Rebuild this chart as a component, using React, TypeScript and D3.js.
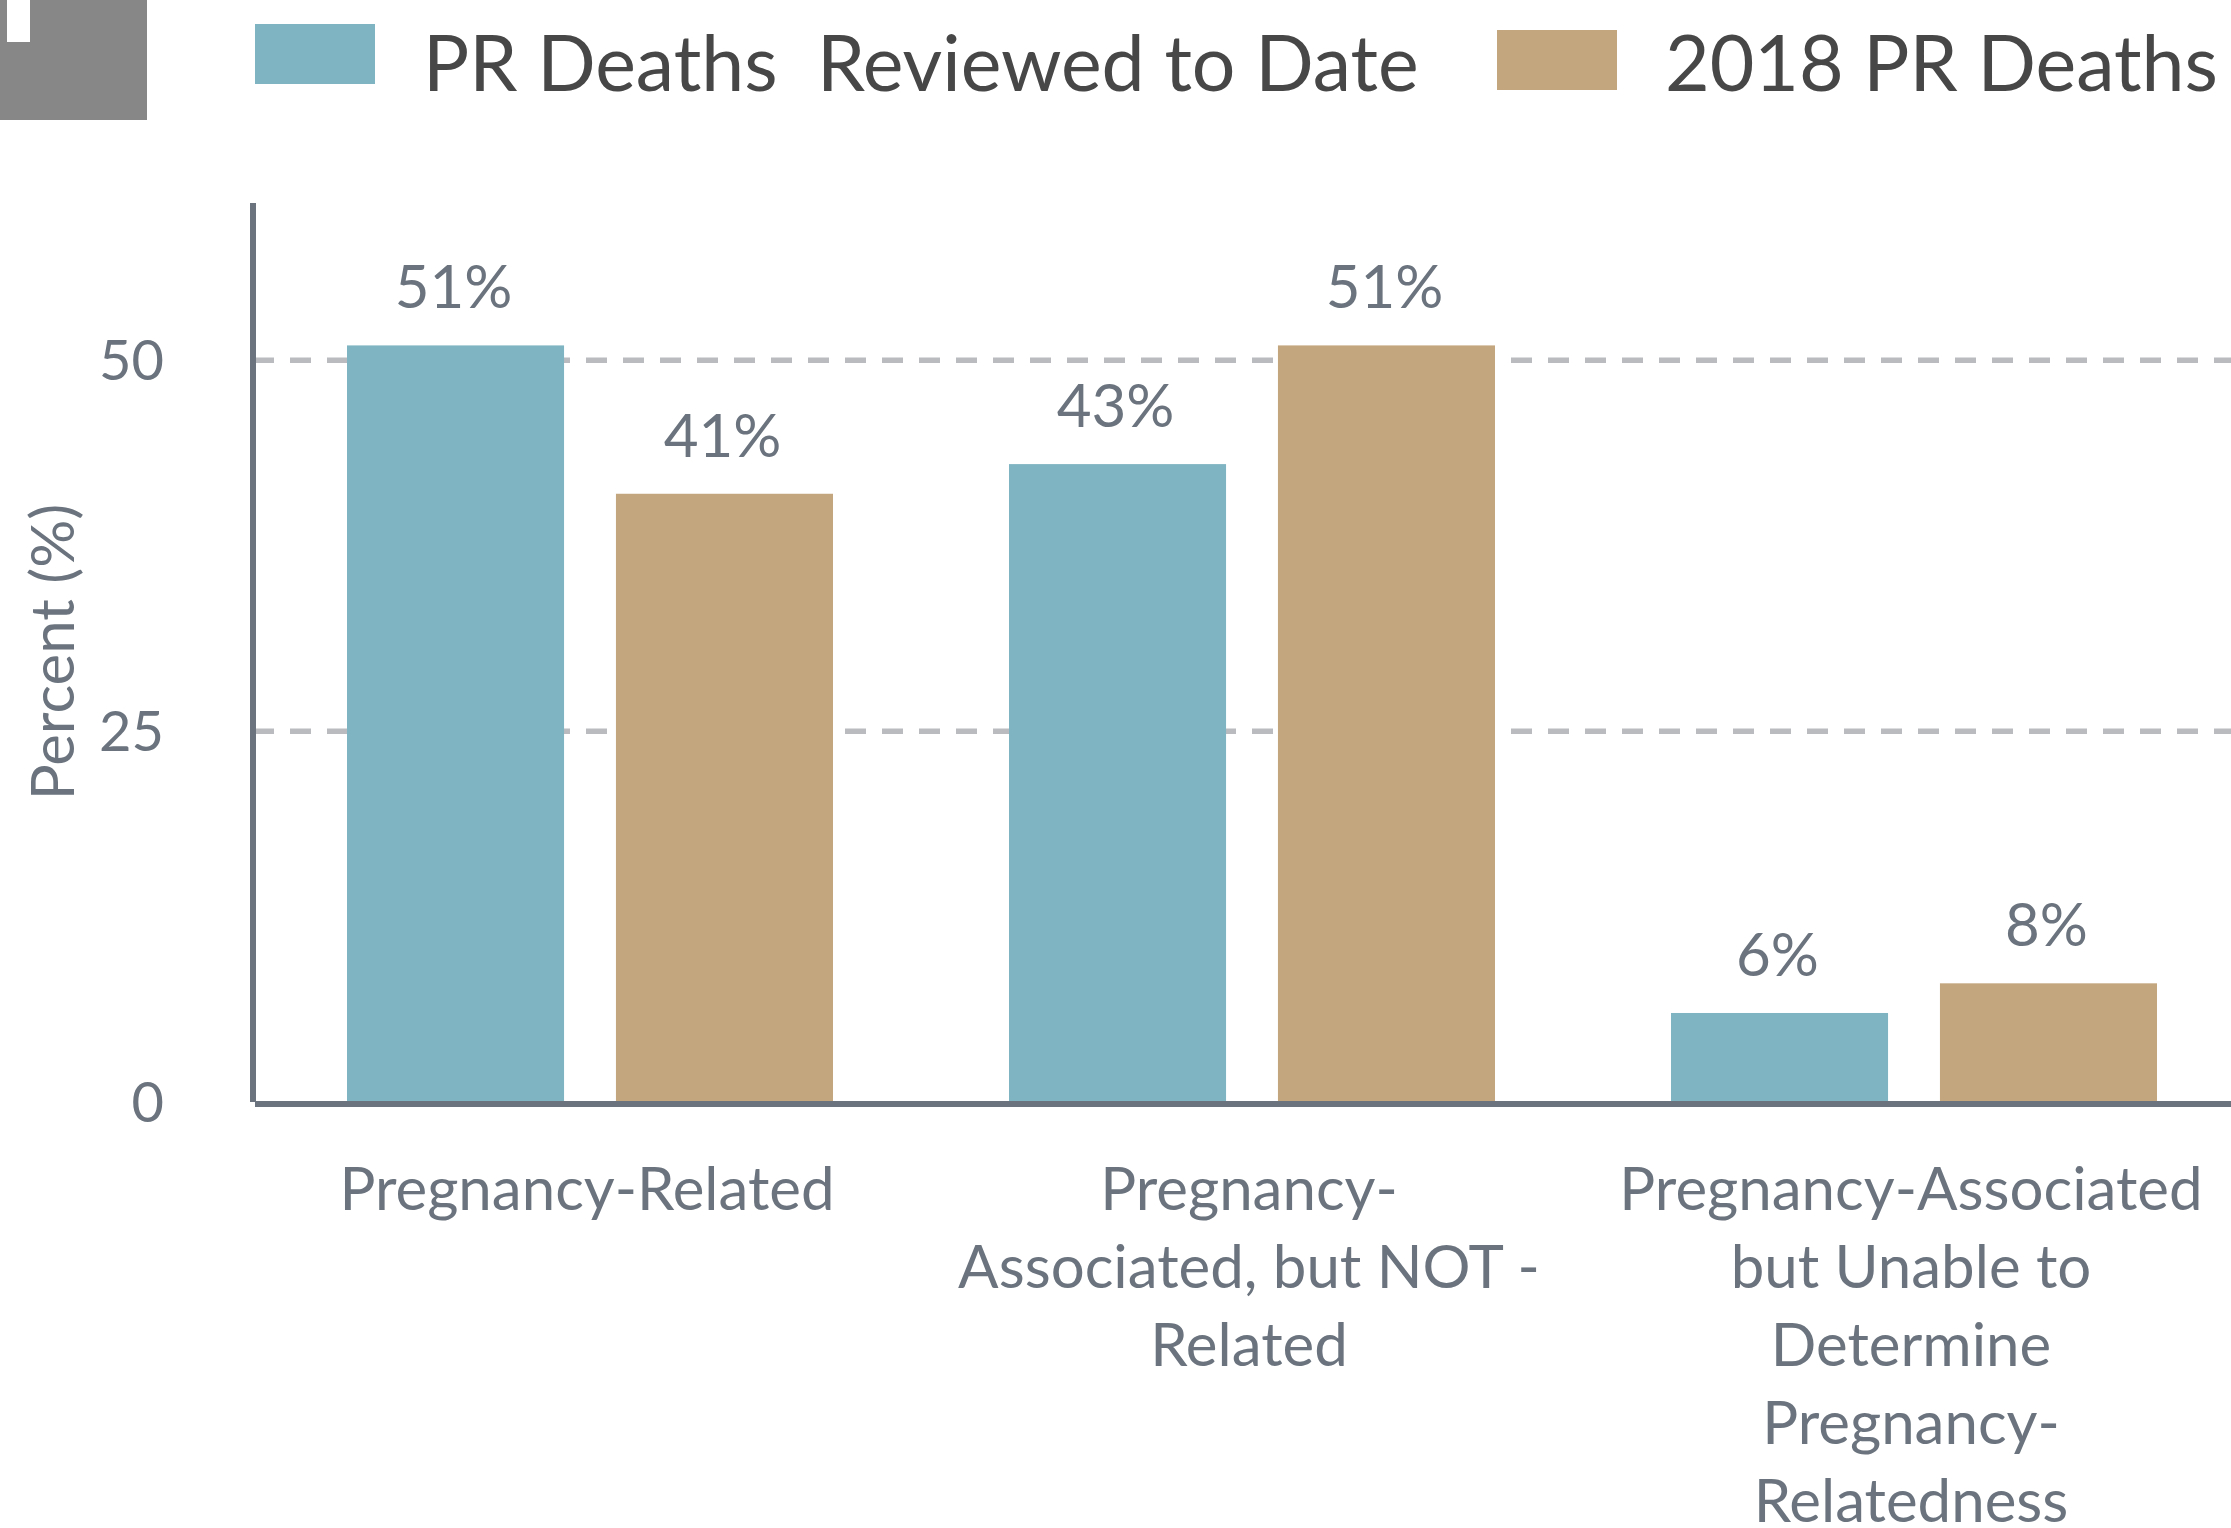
import * as d3 from 'd3';
import React, { useRef, useEffect } from 'react';

const width = 2231;
const height = 1528;
const margin = { top: 203, right: 0, bottom: 425, left: 253 };

// data
const categories = ['Pregnancy-Related', 'Pregnancy-Associated, but NOT-Related', 'Pregnancy-Associated but Unable to Determine'];
const categoryLines = [
  ['Pregnancy-Related'],
  ['Pregnancy-', 'Associated, but NOT -', 'Related'],
  ['Pregnancy-Associated', 'but Unable to', 'Determine', 'Pregnancy-', 'Relatedness']
];
const seriesNames = ['PR Deaths  Reviewed to Date', '2018 PR Deaths'];
const seriesColors = ['#7fb4c2', '#c3a67d'];
const reviewedToDate = [51, 43, 6];
const deaths2018 = [41, 51, 8];
const yTicks = [0, 25, 50];

const textColor = '#6b747e';
const font = 'Lato, "Open Sans", sans-serif';

const App = () => {
  const svgRef = useRef<SVGSVGElement>(null);

  useEffect(() => {
    const svg = d3.select(svgRef.current);
    svg.selectAll('*').remove();

    const x0 = d3.scaleBand<string>()
      .domain(categories)
      .range([margin.left + 6, width + 14]);
    const x1 = d3.scaleBand<string>()
      .domain(seriesNames)
      .range([88, 574])
      .paddingInner(0.193);
    const y = d3.scaleLinear()
      .domain([0, 60.6])
      .range([height - margin.bottom - 1, margin.top]);

    // top-left grey tab
    svg.append('rect').attr('x', 0).attr('y', 0).attr('width', 147).attr('height', 120).attr('fill', '#878787');
    svg.append('rect').attr('x', 7).attr('y', 0).attr('width', 23).attr('height', 42).attr('fill', '#ffffff');

    // legend
    const legendPos = [
      { sx: 255, sy: 24, tx: 423 },
      { sx: 1497, sy: 30, tx: 1665 }
    ];
    seriesNames.forEach((name, i) => {
      svg.append('rect')
        .attr('x', legendPos[i].sx).attr('y', legendPos[i].sy)
        .attr('width', 120).attr('height', 60)
        .attr('fill', seriesColors[i]);
      svg.append('text')
        .attr('x', legendPos[i].tx).attr('y', 91)
        .attr('font-family', font).attr('font-size', 77)
        .attr('fill', '#474747')
        .style('white-space', 'pre')
        .text(name);
    });

    // dashed grid
    yTicks.filter(t => t > 0).forEach(t => {
      svg.append('line')
        .attr('x1', margin.left).attr('x2', width)
        .attr('y1', y(t)).attr('y2', y(t))
        .attr('stroke', '#b9bbbf').attr('stroke-width', 5.5)
        .attr('stroke-dasharray', '21 16');
    });

    // y tick labels
    svg.append('g')
      .selectAll('text')
      .data(yTicks)
      .join('text')
      .attr('x', 164)
      .attr('y', d => y(d))
      .attr('dy', '0.36em')
      .attr('text-anchor', 'end')
      .attr('font-family', font).attr('font-size', 56)
      .attr('fill', textColor)
      .text(d => d);

    // y axis title
    svg.append('text')
      .attr('transform', `translate(52,${652}) rotate(-90)`)
      .attr('text-anchor', 'middle')
      .attr('dy', '0.36em')
      .attr('font-family', font).attr('font-size', 60)
      .attr('fill', textColor)
      .text('Percent (%)');

    const series = [reviewedToDate, deaths2018];
    const groups = svg.append('g')
      .selectAll('g')
      .data(categories)
      .join('g')
      .attr('transform', d => `translate(${x0(d)},0)`);

    groups.selectAll('rect')
      .data((_, ci) => series.map((s, si) => ({ key: seriesNames[si], value: s[ci], color: seriesColors[si] })))
      .join('rect')
      .attr('x', d => x1(d.key)!)
      .attr('width', x1.bandwidth())
      .attr('y', d => y(d.value))
      .attr('height', d => y(0) - y(d.value))
      .attr('fill', d => d.color);

    groups.selectAll('text.value')
      .data((_, ci) => series.map((s, si) => ({ key: seriesNames[si], value: s[ci] })))
      .join('text')
      .attr('class', 'value')
      .attr('x', d => x1(d.key)! + x1.bandwidth() / 2 - 2)
      .attr('y', d => y(d.value) - 37)
      .attr('text-anchor', 'middle')
      .attr('font-family', font).attr('font-size', 60)
      .attr('fill', textColor)
      .text(d => `${d.value}%`);

    // category labels
    groups.each(function (_, ci) {
      const t = d3.select(this).append('text')
        .attr('text-anchor', 'middle')
        .attr('font-family', font).attr('font-size', 60)
        .attr('fill', textColor);
      categoryLines[ci].forEach((line, li) => {
        t.append('tspan')
          .attr('x', x0.bandwidth() / 2 - 3)
          .attr('y', 1210 + li * 78)
          .text(line);
      });
    });

    // axes lines
    svg.append('line')
      .attr('x1', margin.left).attr('x2', margin.left)
      .attr('y1', margin.top).attr('y2', y(0))
      .attr('stroke', '#6b747e').attr('stroke-width', 6);
    svg.append('line')
      .attr('x1', margin.left + 2).attr('x2', width)
      .attr('y1', y(0) + 2).attr('y2', y(0) + 2)
      .attr('stroke', '#6b747e').attr('stroke-width', 6);
  }, []);

  return (
    <svg
      ref={svgRef}
      width={width}
      height={height}
      style={{ position: 'absolute', left: 0, top: 0, background: '#ffffff' }}
    />
  );
};

export default App;
